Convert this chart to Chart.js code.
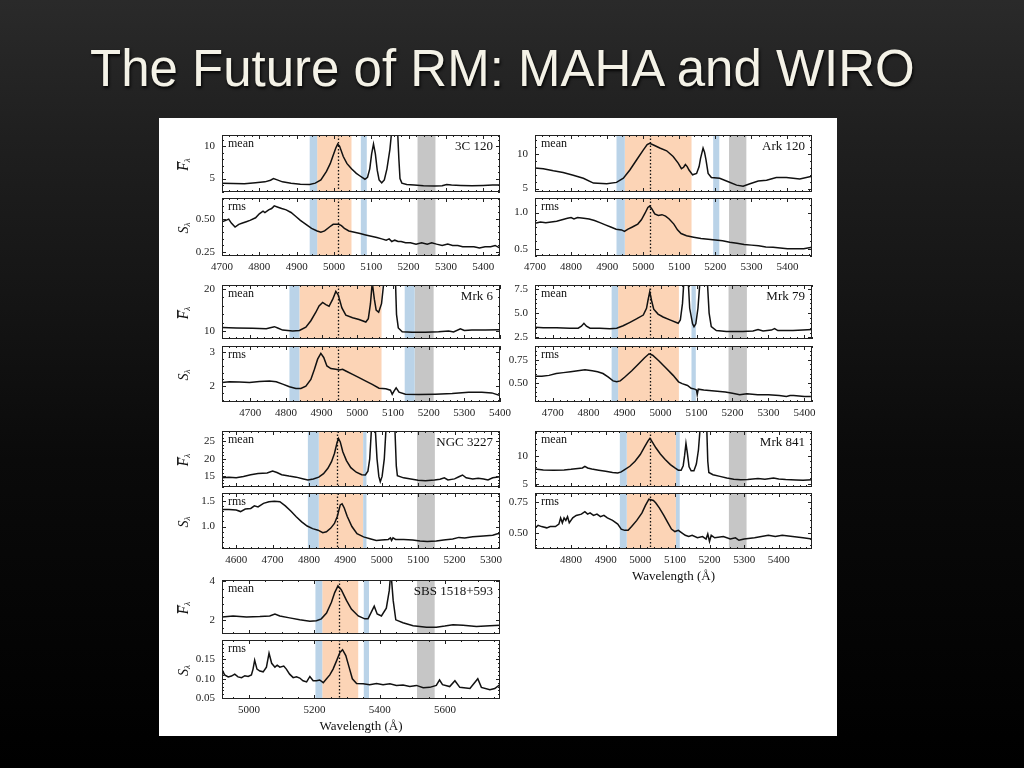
<!DOCTYPE html>
<html>
<head>
<meta charset="utf-8">
<script src="https://cdn.jsdelivr.net/npm/chart.js@4.4.1/dist/chart.umd.min.js"></script>
<style>
  html, body { margin: 0; padding: 0; }
  body {
    width: 1024px; height: 768px; overflow: hidden; position: relative;
    background: linear-gradient(#2a2a2a 0%, #1f1f1f 18%, #0a0a0a 60%, #000 100%);
    font-family: "Liberation Sans", Arial, sans-serif;
  }
  h1 {
    position: absolute; left: 90px; top: 43px; margin: 0;
    font-weight: normal; font-size: 51px; line-height: 51px; white-space: nowrap;
    color: #f4f2e7; text-shadow: 1px 2px 3px rgba(0,0,0,0.9);
  }
  #fig { position: absolute; left: 159px; top: 118px; width: 678px; height: 618px; background: #fff; }
  canvas { position: absolute; }
</style>
</head>
<body>
<h1>The Future of RM: MAHA and WIRO</h1>
<div id="fig"></div>
<script>
// ---- tick values shared by several panels ----
const ticks4700 = [4700, 4800, 4900, 5000, 5100, 5200, 5300, 5400];
const ticks4600 = [4600, 4700, 4800, 4900, 5000, 5100, 5200, 5300];
const ticks4800 = [4800, 4900, 5000, 5100, 5200, 5300, 5400];
const ticksSbs  = [5000, 5200, 5400, 5600];

// ---- 3C 120 ----
const c120_xlim = [4700, 5445];
const c120_meanLim = [2.94, 11.7];
const c120_rmsLim = [0.22, 0.66];
const c120_meanTicks = ['5', '10'];
const c120_rmsTicks = ['0.25', '0.50'];
const c120_blue = [[4935, 4955], [5072, 5088]];
const c120_line = [4955, 5047];
const c120_cont = [5224, 5272];
const c120_center = 5010;
const c120_mean = [[4700,4.3],[4730,4.25],[4760,4.2],[4790,4.35],[4815,4.5],[4830,4.75],[4838,5.0],[4848,4.8],[4862,4.5],
  [4885,4.3],[4910,4.15],[4935,4.1],[4950,4.3],[4965,4.8],[4980,6.1],[4990,7.3],[4998,8.6],[5005,9.7],[5010,10.3],
  [5015,10.0],[5025,8.4],[5035,7.3],[5047,6.5],[5060,5.8],[5070,5.4],[5083,4.9],[5090,5.2],[5096,6.5],[5101,8.8],
  [5106,10.3],[5111,8.8],[5116,6.3],[5121,4.8],[5128,4.35],[5135,4.8],[5142,6.5],[5150,9.5],[5156,13],[5170,13],
  [5174,8],[5177,5.0],[5182,4.3],[5195,4.1],[5215,4.0],[5240,3.9],[5270,3.85],[5290,3.9],[5302,4.1],[5315,4.0],
  [5340,3.95],[5370,3.9],[5400,3.95],[5425,4.0],[5445,4.0]];
const c120_rms = [[4700,0.48],[4710,0.49],[4718,0.50],[4725,0.47],[4735,0.44],[4745,0.46],[4755,0.47],[4765,0.48],
  [4775,0.49],[4790,0.51],[4800,0.54],[4810,0.56],[4815,0.55],[4825,0.57],[4833,0.58],[4840,0.60],[4850,0.59],
  [4860,0.58],[4872,0.57],[4885,0.55],[4898,0.52],[4910,0.49],[4925,0.46],[4940,0.43],[4955,0.41],[4965,0.40],
  [4975,0.41],[4988,0.44],[4998,0.46],[5005,0.46],[5013,0.46],[5020,0.45],[5028,0.43],[5040,0.41],[5055,0.40],
  [5070,0.39],[5085,0.38],[5100,0.37],[5115,0.36],[5128,0.35],[5140,0.34],[5148,0.35],[5155,0.33],[5163,0.34],
  [5172,0.33],[5180,0.33],[5192,0.32],[5205,0.32],[5220,0.31],[5235,0.32],[5250,0.31],[5262,0.32],[5275,0.31],
  [5290,0.30],[5305,0.31],[5318,0.30],[5332,0.30],[5345,0.29],[5360,0.29],[5375,0.29],[5390,0.28],[5405,0.29],
  [5420,0.29],[5432,0.30],[5445,0.28]];

// ---- Ark 120 ----
const ark_xlim = [4700, 5468];
const ark_meanLim = [4.5, 12.8];
const ark_rmsLim = [0.4, 1.2];
const ark_meanTicks = ['5', '10'];
const ark_rmsTicks = ['0.5', '1.0'];
const ark_blue = [[4926, 4949], [5194, 5211]];
const ark_line = [4949, 5134];
const ark_cont = [5238, 5286];
const ark_center = 5018;
const ark_mean = [[4700,8.0],[4723,7.9],[4751,7.6],[4778,7.35],[4806,6.95],[4834,6.5],[4862,5.8],[4899,5.7],[4926,5.9],
  [4945,6.5],[4963,7.7],[4982,9.2],[5000,10.6],[5011,11.4],[5018,11.6],[5030,11.3],[5046,10.9],[5065,10.5],[5083,9.66],
  [5097,8.7],[5106,7.9],[5112,8.1],[5117,8.5],[5122,8.2],[5127,7.7],[5137,7.0],[5148,7.2],[5155,8.2],[5159,9.4],
  [5166,10.9],[5170,10.3],[5174,9.2],[5180,7.2],[5189,6.6],[5212,6.5],[5236,6.0],[5259,5.5],[5277,5.35],[5296,5.7],
  [5319,6.1],[5342,6.2],[5369,6.6],[5397,6.6],[5434,6.4],[5468,6.8]];
const ark_rms = [[4700,0.85],[4715,0.87],[4730,0.86],[4745,0.87],[4760,0.88],[4775,0.90],[4790,0.92],[4800,0.93],
  [4808,0.91],[4818,0.93],[4835,0.92],[4850,0.91],[4865,0.89],[4880,0.86],[4895,0.83],[4910,0.80],[4925,0.77],
  [4940,0.76],[4948,0.74],[4958,0.77],[4970,0.80],[4985,0.84],[4995,0.90],[5005,0.99],[5013,1.07],[5018,1.09],
  [5024,1.05],[5032,0.98],[5042,0.96],[5052,0.97],[5062,0.95],[5072,0.91],[5085,0.84],[5095,0.76],[5105,0.71],
  [5120,0.68],[5140,0.66],[5160,0.64],[5180,0.63],[5200,0.62],[5220,0.61],[5240,0.59],[5260,0.575],[5280,0.56],
  [5300,0.55],[5320,0.54],[5340,0.525],[5360,0.52],[5380,0.51],[5400,0.50],[5420,0.50],[5445,0.50],[5468,0.52]];

// ---- Mrk 6 ----
const mk6_xlim = [4621, 5400];
const mk6_meanLim = [8.2, 20.9];
const mk6_rmsLim = [1.53, 3.19];
const mk6_meanTicks = ['10', '20'];
const mk6_rmsTicks = ['2', '3'];
const mk6_blue = [[4810, 4838], [5133, 5161]];
const mk6_line = [4838, 5068];
const mk6_cont = [5161, 5214];
const mk6_center = 4945;
const mk6_mean = [[4621,10.9],[4661,10.8],[4707,10.7],[4745,10.6],[4759,10.9],[4768,11.1],[4777,10.8],[4791,10.3],
  [4819,10.1],[4838,10.2],[4856,11.0],[4870,12.5],[4884,14.5],[4893,16.0],[4903,16.8],[4912,16.3],[4921,15.9],
  [4931,17.5],[4940,19.4],[4947,18.5],[4957,15.5],[4968,13.8],[4987,13.2],[5005,12.8],[5024,12.2],[5031,13.0],
  [5037,16.5],[5042,21.5],[5048,17.5],[5053,15.0],[5060,14.5],[5068,16.5],[5075,22],[5107,22],[5110,14],[5115,10.8],
  [5126,9.9],[5154,9.8],[5191,9.8],[5228,9.9],[5256,10.1],[5270,9.85],[5289,10.6],[5300,10.2],[5321,10.3],
  [5359,10.3],[5400,10.4]];
const mk6_rms = [[4621,2.11],[4642,2.13],[4670,2.12],[4698,2.11],[4726,2.14],[4754,2.15],[4773,2.13],[4791,2.06],
  [4810,1.98],[4828,1.93],[4842,1.93],[4856,2.0],[4870,2.2],[4880,2.5],[4889,2.8],[4898,2.97],[4906,2.85],[4915,2.6],
  [4926,2.52],[4940,2.5],[4949,2.48],[4959,2.5],[4968,2.45],[4987,2.35],[5005,2.25],[5024,2.15],[5042,2.05],
  [5061,1.94],[5080,1.92],[5093,1.88],[5098,1.76],[5103,1.85],[5109,1.95],[5117,1.82],[5135,1.76],[5173,1.75],
  [5219,1.76],[5266,1.78],[5312,1.82],[5349,1.82],[5377,1.8],[5400,1.72]];

// ---- Mrk 79 ----
const mk79_xlim = [4651, 5421];
const mk79_meanLim = [2.33, 7.9];
const mk79_rmsLim = [0.29, 0.90];
const mk79_meanTicks = ['2.5', '5.0', '7.5'];
const mk79_rmsTicks = ['0.50', '0.75'];
const mk79_blue = [[4864, 4882], [5086, 5098]];
const mk79_line = [4882, 5051];
const mk79_cont = [5189, 5240];
const mk79_center = 4970;
const mk79_mean = [[4651,3.55],[4674,3.5],[4711,3.5],[4748,3.45],[4771,3.45],[4780,3.65],[4787,3.95],[4794,3.65],
  [4804,3.45],[4831,3.45],[4859,3.4],[4878,3.45],[4896,3.7],[4915,4.05],[4933,4.4],[4952,4.8],[4961,5.5],[4965,6.3],
  [4970,7.2],[4975,6.3],[4981,5.4],[4993,4.9],[5007,4.6],[5026,4.3],[5049,3.95],[5055,4.3],[5061,6.0],[5066,9],
  [5076,9],[5081,5.5],[5089,3.9],[5093,3.6],[5098,3.9],[5104,5.5],[5111,9],[5129,9],[5135,5.0],[5141,3.6],
  [5155,3.2],[5183,3.1],[5229,3.1],[5257,3.15],[5271,3.3],[5285,3.15],[5308,3.25],[5317,3.4],[5326,3.2],
  [5368,3.2],[5396,3.25],[5421,3.3]];
const mk79_rms = [[4651,0.57],[4670,0.57],[4690,0.58],[4710,0.60],[4730,0.61],[4750,0.62],[4770,0.63],[4790,0.64],
  [4810,0.63],[4825,0.62],[4840,0.60],[4855,0.56],[4868,0.52],[4878,0.51],[4888,0.52],[4900,0.56],[4920,0.63],
  [4940,0.71],[4955,0.77],[4968,0.815],[4978,0.80],[4995,0.74],[5015,0.66],[5035,0.58],[5050,0.51],[5060,0.49],
  [5075,0.47],[5085,0.44],[5095,0.43],[5100,0.42],[5102,0.37],[5105,0.43],[5120,0.42],[5150,0.41],[5180,0.40],
  [5200,0.385],[5220,0.37],[5240,0.38],[5270,0.37],[5300,0.37],[5330,0.36],[5350,0.35],[5360,0.36],[5370,0.36],
  [5400,0.35],[5421,0.35]];

// ---- NGC 3227 ----
const n3227_xlim = [4561, 5325];
const n3227_meanLim = [12.0, 27.9];
const n3227_rmsLim = [0.565, 1.65];
const n3227_meanTicks = ['15', '20', '25'];
const n3227_rmsTicks = ['1.0', '1.5'];
const n3227_blue = [[4797, 4827], [4949, 4958]];
const n3227_line = [4827, 4949];
const n3227_cont = [5097, 5146];
const n3227_center = 4878;
const n3227_mean = [[4561,14.6],[4580,14.8],[4600,14.6],[4620,15.0],[4640,15.5],[4660,15.8],[4685,16.0],[4700,16.5],
  [4712,16.1],[4725,15.5],[4745,15.1],[4765,14.8],[4785,14.3],[4797,14.0],[4812,14.3],[4827,14.8],[4840,15.8],
  [4852,17.3],[4862,19.2],[4870,21.5],[4877,24.5],[4881,25.8],[4886,24.8],[4893,22.0],[4903,19.5],[4915,17.5],
  [4930,16.2],[4945,15.5],[4955,15.4],[4962,16.5],[4967,20],[4972,29],[4982,29],[4987,20],[4992,15],[4996,13.5],
  [5001,15],[5007,20],[5012,29],[5036,29],[5040,18],[5043,15.2],[5060,14.6],[5080,14.3],[5100,13.9],[5120,13.8],
  [5145,14.0],[5160,14.2],[5172,14.6],[5182,14.0],[5200,14.3],[5212,14.9],[5222,15.4],[5232,14.6],[5250,14.3],
  [5265,14.5],[5280,14.3],[5292,14.0],[5305,14.6],[5325,14.9]];
const n3227_rms = [[4561,1.33],[4580,1.33],[4600,1.32],[4612,1.29],[4625,1.34],[4640,1.35],[4650,1.40],[4660,1.38],
  [4675,1.45],[4690,1.48],[4705,1.49],[4720,1.48],[4735,1.40],[4750,1.30],[4765,1.19],[4780,1.09],[4795,1.01],
  [4810,0.96],[4825,0.93],[4838,0.88],[4848,0.90],[4860,0.97],[4870,1.06],[4878,1.20],[4886,1.42],[4891,1.44],
  [4897,1.36],[4905,1.20],[4918,1.00],[4932,0.86],[4950,0.80],[4970,0.76],[4985,0.73],[5000,0.74],[5018,0.75],
  [5024,0.78],[5027,0.73],[5031,0.78],[5038,0.75],[5060,0.75],[5085,0.74],[5105,0.72],[5125,0.71],[5150,0.72],
  [5170,0.74],[5195,0.76],[5212,0.79],[5228,0.78],[5250,0.80],[5270,0.81],[5288,0.82],[5305,0.83],[5318,0.86],
  [5325,0.86]];

// ---- Mrk 841 ----
const mk841_xlim = [4696, 5496];
const mk841_meanLim = [4.4, 14.4];
const mk841_rmsLim = [0.37, 0.82];
const mk841_meanTicks = ['5', '10'];
const mk841_rmsTicks = ['0.50', '0.75'];
const mk841_blue = [[4941, 4961], [5103, 5114]];
const mk841_line = [4961, 5103];
const mk841_cont = [5256, 5307];
const mk841_center = 5028;
const mk841_mean = [[4696,7.6],[4720,7.45],[4750,7.4],[4780,7.45],[4800,7.55],[4820,7.7],[4833,7.8],[4840,8.1],
  [4848,7.8],[4860,7.6],[4880,7.4],[4900,7.2],[4920,7.0],[4935,6.9],[4945,7.1],[4955,7.5],[4970,8.1],[4985,9.0],
  [5000,10.2],[5012,11.5],[5022,12.6],[5028,13.1],[5035,12.4],[5045,11.4],[5058,10.3],[5072,9.3],[5087,8.4],
  [5100,7.8],[5110,7.4],[5118,7.4],[5124,8.2],[5128,10.0],[5132,12.2],[5136,10.5],[5141,8.0],[5147,7.3],[5155,7.3],
  [5162,8.5],[5168,11],[5173,15],[5192,15],[5195,9],[5198,7.0],[5210,6.6],[5230,6.3],[5250,6.0],[5270,5.8],
  [5290,5.7],[5310,5.75],[5340,5.9],[5360,5.8],[5385,6.0],[5400,5.85],[5420,5.75],[5450,5.65],[5470,5.6],[5496,5.7]];
const mk841_rms = [[4696,0.54],[4705,0.56],[4715,0.55],[4730,0.54],[4740,0.55],[4755,0.55],[4765,0.57],[4770,0.62],
  [4775,0.58],[4780,0.62],[4785,0.60],[4790,0.63],[4795,0.58],[4805,0.62],[4815,0.64],[4830,0.65],[4840,0.67],
  [4848,0.65],[4855,0.66],[4865,0.64],[4875,0.65],[4885,0.63],[4895,0.64],[4905,0.62],[4920,0.60],[4935,0.57],
  [4945,0.53],[4955,0.52],[4965,0.52],[4975,0.55],[4990,0.60],[5005,0.66],[5015,0.72],[5025,0.77],[5038,0.76],
  [5045,0.74],[5055,0.70],[5068,0.64],[5080,0.58],[5090,0.53],[5100,0.51],[5110,0.52],[5120,0.50],[5130,0.48],
  [5140,0.47],[5150,0.48],[5165,0.46],[5180,0.47],[5190,0.45],[5195,0.49],[5200,0.43],[5205,0.48],[5215,0.46],
  [5240,0.47],[5260,0.45],[5275,0.46],[5285,0.44],[5300,0.45],[5330,0.46],[5350,0.47],[5370,0.48],[5390,0.47],
  [5410,0.48],[5440,0.47],[5470,0.46],[5496,0.45]];

// ---- SBS 1518+593 ----
const sbs_xlim = [4917, 5768];
const sbs_meanLim = [1.27, 4.05];
const sbs_rmsLim = [0.048, 0.2];
const sbs_meanTicks = ['2', '4'];
const sbs_rmsTicks = ['0.05', '0.10', '0.15'];
const sbs_blue = [[5203, 5224], [5351, 5367]];
const sbs_line = [5224, 5334];
const sbs_cont = [5514, 5568];
const sbs_center = 5274;
const sbs_mean = [[4917,2.15],[4951,2.2],[4992,2.15],[5033,2.17],[5063,2.2],[5079,2.3],[5094,2.2],[5124,2.1],
  [5155,2.0],[5186,1.93],[5206,1.95],[5221,2.05],[5237,2.35],[5252,2.9],[5262,3.4],[5272,3.75],[5282,3.55],
  [5298,3.0],[5313,2.55],[5334,2.2],[5354,2.05],[5364,2.05],[5374,2.4],[5383,2.7],[5392,2.3],[5405,2.2],[5420,2.6],
  [5429,3.5],[5434,4.5],[5441,3.0],[5449,2.0],[5471,1.85],[5502,1.7],[5543,1.62],[5573,1.62],[5599,1.68],
  [5624,1.75],[5655,1.72],[5696,1.66],[5737,1.7],[5768,1.72]];
const sbs_rms = [[4917,0.124],[4925,0.11],[4936,0.105],[4946,0.107],[4956,0.112],[4966,0.105],[4977,0.103],
  [4987,0.108],[4997,0.106],[5007,0.11],[5012,0.125],[5017,0.148],[5024,0.125],[5033,0.12],[5043,0.118],[5053,0.13],
  [5061,0.166],[5069,0.14],[5079,0.13],[5086,0.135],[5094,0.13],[5106,0.133],[5114,0.125],[5124,0.112],[5135,0.103],
  [5145,0.105],[5155,0.102],[5165,0.095],[5176,0.092],[5186,0.106],[5196,0.095],[5206,0.095],[5216,0.097],
  [5227,0.09],[5237,0.1],[5247,0.11],[5257,0.125],[5267,0.145],[5278,0.168],[5286,0.175],[5296,0.16],[5306,0.13],
  [5316,0.1],[5329,0.088],[5349,0.087],[5369,0.085],[5390,0.088],[5410,0.085],[5431,0.087],[5451,0.083],
  [5471,0.084],[5492,0.08],[5512,0.083],[5533,0.077],[5553,0.078],[5573,0.083],[5583,0.097],[5592,0.085],
  [5614,0.08],[5630,0.095],[5645,0.078],[5676,0.075],[5700,0.1],[5711,0.078],[5737,0.072],[5752,0.075],[5768,0.085]];

// ---- styling & layout ----
const BLUE = '#bad3e8', ORANGE = '#fcd4b6', GRAY = '#c6c6c6';
const COLS = [{ l: 222, w: 278 }, { l: 535, w: 277 }];
const ROWS = [
  { mt: 135, mh: 57, rt: 198, rh: 58 },
  { mt: 285, mh: 54, rt: 346, rh: 56 },
  { mt: 431, mh: 56, rt: 493, rh: 56 },
  { mt: 580, mh: 54, rt: 640, rh: 59 },
];
const SERIF = '"Liberation Serif", "DejaVu Serif", serif';

const panels = [
  { name: '3C 120', col: 0, row: 0, xlim: c120_xlim, xticks: ticks4700, xsub: 5, mean: c120_mean, meanLim: c120_meanLim,
    meanTicks: c120_meanTicks, rms: c120_rms, rmsLim: c120_rmsLim, rmsTicks: c120_rmsTicks,
    blue: c120_blue, line: c120_line, cont: c120_cont, center: c120_center },
  { name: 'Ark 120', col: 1, row: 0, xlim: ark_xlim, xticks: ticks4700, xsub: 5, mean: ark_mean, meanLim: ark_meanLim,
    meanTicks: ark_meanTicks, rms: ark_rms, rmsLim: ark_rmsLim, rmsTicks: ark_rmsTicks,
    blue: ark_blue, line: ark_line, cont: ark_cont, center: ark_center },
  { name: 'Mrk 6', col: 0, row: 1, xlim: mk6_xlim, xticks: ticks4700, xsub: 5, mean: mk6_mean, meanLim: mk6_meanLim,
    meanTicks: mk6_meanTicks, rms: mk6_rms, rmsLim: mk6_rmsLim, rmsTicks: mk6_rmsTicks,
    blue: mk6_blue, line: mk6_line, cont: mk6_cont, center: mk6_center },
  { name: 'Mrk 79', col: 1, row: 1, xlim: mk79_xlim, xticks: ticks4700, xsub: 5, mean: mk79_mean, meanLim: mk79_meanLim,
    meanTicks: mk79_meanTicks, rms: mk79_rms, rmsLim: mk79_rmsLim, rmsTicks: mk79_rmsTicks,
    blue: mk79_blue, line: mk79_line, cont: mk79_cont, center: mk79_center },
  { name: 'NGC 3227', col: 0, row: 2, xlim: n3227_xlim, xticks: ticks4600, xsub: 5, mean: n3227_mean, meanLim: n3227_meanLim,
    meanTicks: n3227_meanTicks, rms: n3227_rms, rmsLim: n3227_rmsLim, rmsTicks: n3227_rmsTicks,
    blue: n3227_blue, line: n3227_line, cont: n3227_cont, center: n3227_center },
  { name: 'Mrk 841', col: 1, row: 2, xlim: mk841_xlim, xticks: ticks4800, xsub: 5, mean: mk841_mean, meanLim: mk841_meanLim,
    meanTicks: mk841_meanTicks, rms: mk841_rms, rmsLim: mk841_rmsLim, rmsTicks: mk841_rmsTicks,
    blue: mk841_blue, line: mk841_line, cont: mk841_cont, center: mk841_center, xlabel: true },
  { name: 'SBS 1518+593', col: 0, row: 3, xlim: sbs_xlim, xticks: ticksSbs, xsub: 4, mean: sbs_mean, meanLim: sbs_meanLim,
    meanTicks: sbs_meanTicks, rms: sbs_rms, rmsLim: sbs_rmsLim, rmsTicks: sbs_rmsTicks,
    blue: sbs_blue, line: sbs_line, cont: sbs_cont, center: sbs_center, xlabel: true },
];

// minor + major tick positions between lo and hi
function tickMarks(major, sub, lo, hi) {
  const step = (major[1] - major[0]) / sub;
  const start = major[0] - step * Math.floor((major[0] - lo) / step + 1e-6);
  const out = [];
  for (let k = 0; start + k * step <= hi + 1e-9; k++) {
    const v = start + k * step;
    const isMajor = major.some(m => Math.abs(m - v) < step * 0.01);
    out.push([v, isMajor ? 4 : 2]);
  }
  return out;
}

// draws the bands, the dotted centre line, the frame, inward ticks and the texts
const decor = {
  id: 'decor',
  beforeDatasetsDraw(chart, args, o) {
    const { ctx, chartArea: a } = chart;
    const x = chart.scales.x;
    ctx.save();
    ctx.beginPath(); ctx.rect(a.left, a.top, a.right - a.left, a.bottom - a.top); ctx.clip();
    o.bands.forEach(b => {
      const x0 = x.getPixelForValue(b[0]), x1 = x.getPixelForValue(b[1]);
      ctx.fillStyle = b[2];
      ctx.fillRect(x0, a.top, x1 - x0, a.bottom - a.top);
    });
    const xc = Math.round(x.getPixelForValue(o.center)) + 0.5;
    ctx.strokeStyle = '#111'; ctx.lineWidth = 1.3; ctx.setLineDash([1.5, 2]);
    ctx.beginPath(); ctx.moveTo(xc, a.top); ctx.lineTo(xc, a.bottom); ctx.stroke();
    ctx.restore();
  },
  afterDatasetsDraw(chart, args, o) {
    const { ctx, chartArea: a, scales: { x, y } } = chart;
    ctx.save();
    ctx.strokeStyle = '#222'; ctx.lineWidth = 1;
    ctx.strokeRect(a.left + 0.5, a.top + 0.5, a.right - a.left - 1, a.bottom - a.top - 1);
    ctx.beginPath();
    tickMarks(o.xticks, o.xsub, x.min, x.max).forEach(([v, len]) => {
      const px = Math.round(x.getPixelForValue(v)) + 0.5;
      ctx.moveTo(px, a.bottom); ctx.lineTo(px, a.bottom - len);
      ctx.moveTo(px, a.top); ctx.lineTo(px, a.top + len);
    });
    tickMarks(o.yticks, 5, y.min, y.max).forEach(([v, len]) => {
      const py = Math.round(y.getPixelForValue(v)) + 0.5;
      ctx.moveTo(a.left, py); ctx.lineTo(a.left + len, py);
      ctx.moveTo(a.right, py); ctx.lineTo(a.right - len, py);
    });
    ctx.stroke();

    ctx.fillStyle = '#111';
    ctx.textBaseline = 'alphabetic';
    ctx.font = '12px ' + SERIF;
    ctx.textAlign = 'left';
    ctx.fillText(o.tag, a.left + 6, a.top + 12);
    if (o.name) {
      ctx.font = '13px ' + SERIF;
      ctx.textAlign = 'right';
      ctx.fillText(o.name, a.right - 7, a.top + 15);
    }
    if (o.ytitle) {
      ctx.save();
      ctx.translate(a.left - 38, (a.top + a.bottom) / 2);
      ctx.rotate(-Math.PI / 2);
      ctx.font = 'italic 14px ' + SERIF;
      ctx.textAlign = 'left'; ctx.textBaseline = 'middle';
      const w = ctx.measureText(o.ytitle).width;
      const x0 = -(w + 6) / 2;
      ctx.fillText(o.ytitle, x0, 0);
      if (o.ytitle === 'F') {
        ctx.lineWidth = 1; ctx.beginPath();
        ctx.moveTo(x0 + 1, -6.5); ctx.lineTo(x0 + w + 1, -6.5); ctx.stroke();
      }
      ctx.font = 'italic 9px ' + SERIF;
      ctx.fillText('λ', x0 + w, 4);
      ctx.restore();
    }
    if (o.xlabel) {
      ctx.font = '13px ' + SERIF;
      ctx.textAlign = 'center'; ctx.textBaseline = 'middle';
      ctx.fillText('Wavelength (Å)', (a.left + a.right) / 2, a.bottom + 28);
    }
    ctx.restore();
  }
};

function makeChart(p, kind) {
  const col = COLS[p.col], row = ROWS[p.row];
  const isMean = kind === 'mean';
  const box = { l: col.l, w: col.w, t: isMean ? row.mt : row.rt, h: isMean ? row.mh : row.rh };
  const showX = !isMean;
  const yW = 50, padT = 8, padR = 20;
  const xH = showX ? 20 : 0;
  const padB = showX ? (p.xlabel ? 24 : 2) : 8;
  const cv = document.createElement('canvas');
  cv.width = yW + box.w + padR;
  cv.height = padT + box.h + xH + padB;
  cv.style.left = (box.l - yW) + 'px';
  cv.style.top = (box.t - padT) + 'px';
  document.body.appendChild(cv);

  const series = isMean ? p.mean : p.rms;
  const lim = isMean ? p.meanLim : p.rmsLim;
  const yTickLabels = isMean ? p.meanTicks : p.rmsTicks;
  const yTickValues = yTickLabels.map(Number);
  const bands = [[p.line[0], p.line[1], ORANGE], [p.cont[0], p.cont[1], GRAY]]
    .concat(p.blue.map(b => [b[0], b[1], BLUE]));
  const tickFont = { family: SERIF, size: 11 };

  return new Chart(cv, {
    type: 'line',
    data: {
      datasets: [{
        data: series.map(d => ({ x: d[0], y: d[1] })),
        borderColor: '#111', borderWidth: 1.5, pointRadius: 0, tension: 0, fill: false,
      }]
    },
    options: {
      responsive: false, animation: false, devicePixelRatio: 1,
      layout: { autoPadding: false, padding: { left: 0, top: padT, right: padR, bottom: padB } },
      plugins: {
        legend: { display: false }, tooltip: { enabled: false },
        decor: {
          bands, center: p.center, xticks: p.xticks, xsub: p.xsub, yticks: yTickValues,
          tag: isMean ? 'mean' : 'rms', name: isMean ? p.name : null,
          ytitle: p.col === 0 ? (isMean ? 'F' : 'S') : null,
          xlabel: showX && p.xlabel,
        }
      },
      scales: {
        x: {
          type: 'linear', min: p.xlim[0], max: p.xlim[1], display: showX,
          grid: { display: false, drawTicks: false }, border: { display: false },
          afterBuildTicks: s => { s.ticks = p.xticks.map(v => ({ value: v })); },
          afterFit: s => { s.height = xH; s.paddingLeft = 0; s.paddingRight = 0; },
          ticks: { autoSkip: false, maxRotation: 0, padding: 5, color: '#222', font: tickFont, callback: v => String(v) }
        },
        y: {
          type: 'linear', min: lim[0], max: lim[1],
          grid: { display: false, drawTicks: false }, border: { display: false },
          afterBuildTicks: s => { s.ticks = yTickValues.map(v => ({ value: v })); },
          afterFit: s => { s.width = yW; s.paddingTop = 0; s.paddingBottom = 0; },
          ticks: { padding: 7, color: '#222', font: tickFont, callback: (v, i) => yTickLabels[i] }
        }
      }
    },
    plugins: [decor]
  });
}

panels.forEach(p => { makeChart(p, 'mean'); makeChart(p, 'rms'); });
</script>
</body>
</html>
